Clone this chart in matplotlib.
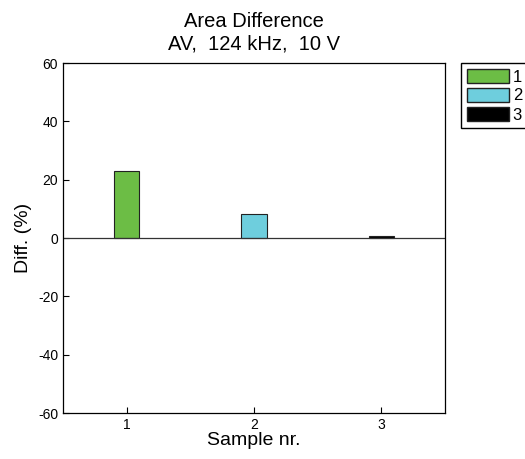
import numpy as np
import matplotlib.pyplot as plt
from matplotlib.patches import Patch

plt.rcParams['font.family'] = ['Liberation Sans', 'DejaVu Sans']
plt.rcParams['axes.unicode_minus'] = False

samples = [1, 2, 3]
diff = [23.1, 8.2, 0.8]
colors = ['#6cbd45', '#6ecedd', '#000000']
labels = ['1', '2', '3']

fig = plt.figure(figsize=(5.25, 4.59), dpi=100)
ax = fig.add_axes([0.12, 0.1002, 0.7276, 0.7625])

for s, d, c, l in zip(samples, diff, colors, labels):
    ax.bar(s, d, 0.2, color=c, edgecolor='#222222', linewidth=0.8, label=l)

ax.axhline(0, color='#333333', linewidth=0.9)

ax.set_xlim(0.5, 3.5)
ax.set_ylim(-60, 60)
ax.set_xticks(samples)
ax.set_yticks([-60, -40, -20, 0, 20, 40, 60])
ax.tick_params(direction='in', length=4, labelsize=10, width=0.8)
for sp in ax.spines.values():
    sp.set_linewidth(0.9)

ax.set_xlabel("Sample nr.", fontsize=14, labelpad=0)
ax.set_ylabel("Diff. (%)", fontsize=14, labelpad=4)
ax.set_title("Area Difference\nAV,  124 kHz,  10 V", fontsize=14.5, linespacing=1.2, pad=10)

handles = [Patch(facecolor=c, edgecolor='#222222', label=l) for c, l in zip(colors, labels)]
fig.legend(handles=handles, loc='upper left', bbox_to_anchor=(461 / 525, 1 - 63 / 459),
           fontsize=12, handlelength=2.55, handleheight=0.9, labelspacing=0.2,
           handletextpad=0.2, borderpad=0.35, borderaxespad=0, fancybox=False,
           edgecolor='black', framealpha=1)

plt.savefig("out.png", dpi=100)
